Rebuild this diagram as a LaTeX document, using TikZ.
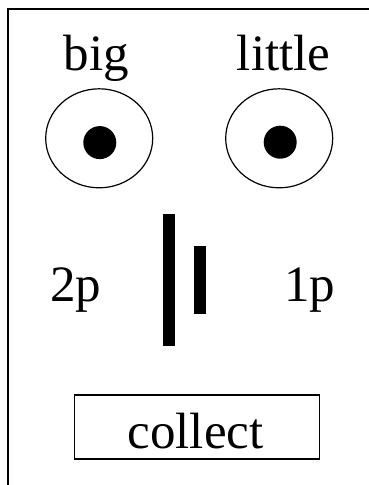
\documentclass[tikz,border=0pt]{standalone}
\usepackage{fontspec}
\setmainfont{Liberation Serif}
\usetikzlibrary{shapes.geometric}
\begin{document}
\begin{tikzpicture}[x=1pt,y=-1pt,
  lbl/.style={inner sep=0pt,anchor=base,font=\fontsize{51}{60}\selectfont},
  eye/.style={draw,line width=1.2pt,ellipse,minimum width=107pt,minimum height=99pt,inner sep=0pt},
  pupil/.style={fill=black,circle,minimum size=33pt,inner sep=0pt},
  bar/.style={fill=black,rectangle,inner sep=0pt,minimum width=11.7pt},
  btn/.style={draw,line width=1.3pt,rectangle,minimum width=245pt,minimum height=64pt,inner sep=0pt}]
\useasboundingbox (0,0) rectangle (368,485);
\coordinate (fbl) at (8,486);
\coordinate (ftl) at (8,9);
\coordinate (ftr) at (369,9);
\draw[line width=2pt] (fbl) -- (ftl) -- (ftr);
\node[lbl] (big) at (96.3,70) {big};
\node[lbl] (little) at (283.7,70) {little};
\node[eye] (eyeL) at (99.2,138.3) {};
\node[eye] (eyeR) at (279.2,138.3) {};
\node[pupil] (pupL) at (99.8,142.6) {};
\node[pupil] (pupR) at (280.2,142.2) {};
\node[bar,minimum height=131.7pt] (barL) at (169.2,280.2) {};
\node[bar,minimum height=68.3pt] (barR) at (199.9,280.2) {};
\node[lbl] (twop) at (75.7,301.3) {2p};
\node[lbl] (onep) at (309.8,301.3) {1p};
\node[btn] (box) at (196.7,427) {};
\node[lbl] (collect) at (195.5,448) {collect};
\end{tikzpicture}
\end{document}
